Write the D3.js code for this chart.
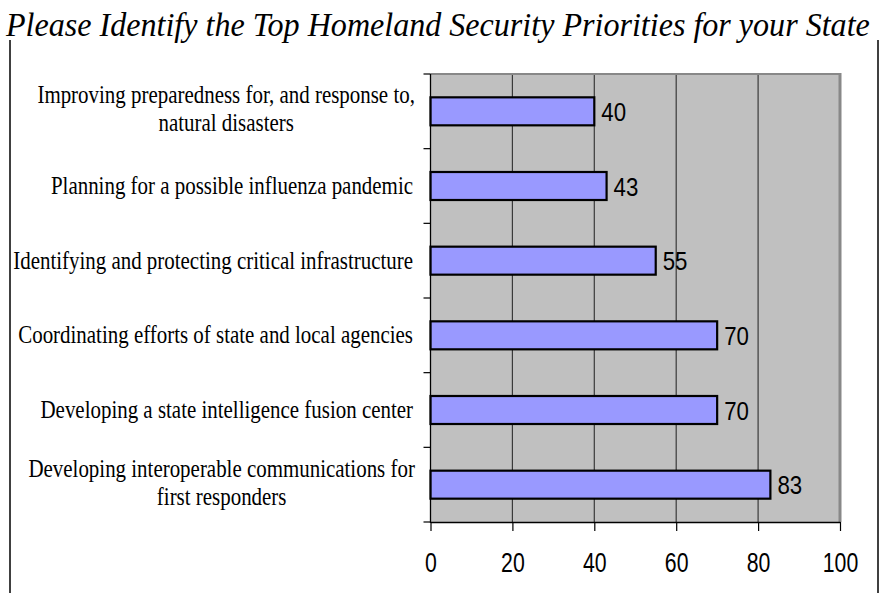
<!DOCTYPE html>
<html><head><meta charset="utf-8">
<script src="https://cdn.jsdelivr.net/npm/d3@7"></script>
<style>body{margin:0;background:#fff}svg{display:block}</style>
</head><body>
<script>
const title = "Please Identify the Top Homeland Security Priorities for your State";
const categories = [
  ["Improving preparedness for, and response to,", "natural disasters"],
  ["Planning for a possible influenza pandemic"],
  ["Identifying and protecting critical infrastructure"],
  ["Coordinating efforts of state and local agencies"],
  ["Developing a state intelligence fusion center"],
  ["Developing interoperable communications for", "first responders"]
];
const values = [40, 43, 55, 70, 70, 83];
const xTicks = [0, 20, 40, 60, 80, 100];

const W = 881, H = 593;
const svg = d3.select("body").append("svg").attr("width", W).attr("height", H);

// frame lines
svg.append("line").attr("x1",10).attr("x2",10).attr("y1",40).attr("y2",H).attr("stroke","#000").attr("stroke-width",1.5);
svg.append("line").attr("x1",878).attr("x2",878).attr("y1",40).attr("y2",H).attr("stroke","#000").attr("stroke-width",1.5);

// title (compressed horizontally via scale to span the page width)
const tTitle = svg.append("text")
  .attr("font-family","'Liberation Serif','Times New Roman',serif")
  .attr("font-style","italic").attr("font-size",34)
  .attr("fill","#000").text(title);
const tW = tTitle.node().getComputedTextLength();
tTitle.attr("transform",`translate(6,36) scale(${864/tW},1)`);

const x0 = 430.5, x1 = 840, y0 = 74, y1 = 522;
const x = d3.scaleLinear().domain([0,100]).range([x0,x1]);
const y = d3.scaleBand().domain(d3.range(categories.length)).range([y0,y1]).paddingInner(0).paddingOuter(0);

// plot background
svg.append("rect").attr("x",x0).attr("y",y0).attr("width",x1-x0).attr("height",y1-y0).attr("fill","#C0C0C0");
// gridlines
svg.append("g").selectAll("line").data(xTicks.filter(t=>t>0&&t<100)).join("line")
  .attr("x1",d=>x(d)).attr("x2",d=>x(d)).attr("y1",y0).attr("y2",y1)
  .attr("stroke","#3a3a3a").attr("stroke-width",1.2);
// plot border top/right
svg.append("line").attr("x1",x0).attr("x2",x1).attr("y1",y0).attr("y2",y0).attr("stroke","#888").attr("stroke-width",2);
svg.append("line").attr("x1",x1).attr("x2",x1).attr("y1",y0-1).attr("y2",y1).attr("stroke","#888").attr("stroke-width",3);

// bars
const bh = 28;
svg.append("g").selectAll("rect").data(values).join("rect")
  .attr("x",x(0)).attr("y",(d,i)=>y(i)+y.bandwidth()/2-bh/2)
  .attr("width",d=>x(d)-x(0)).attr("height",bh)
  .attr("fill","#9999FF").attr("stroke","#000").attr("stroke-width",2.2);

// value labels
svg.append("g").selectAll("text").data(values).join("text")
  .attr("transform",(d,i)=>`translate(${x(d)+7},${y(i)+y.bandwidth()/2+9.5}) scale(0.84,1)`)
  .attr("font-family","'Liberation Sans',Arial,sans-serif").attr("font-size",26.5)
  .attr("fill","#000").text(d=>d);

// y axis
svg.append("line").attr("x1",x0).attr("x2",x0).attr("y1",y0).attr("y2",y1+1).attr("stroke","#000").attr("stroke-width",1.3);
const bounds = d3.range(categories.length+1).map(i=>y0+i*y.bandwidth());
svg.append("g").selectAll("line").data(bounds).join("line")
  .attr("x1",x0-7).attr("x2",x0).attr("y1",d=>d).attr("y2",d=>d).attr("stroke","#000").attr("stroke-width",1.2);

// x axis
const xAxis = d3.axisBottom(x).tickValues(xTicks).tickSize(9).tickSizeOuter(0).tickPadding(21);
const gx = svg.append("g").attr("transform",`translate(0,${y1})`).call(xAxis);
gx.select(".domain").attr("stroke","#000").attr("stroke-width",1.3);
gx.selectAll(".tick line").attr("stroke","#000").attr("stroke-width",1.2);
gx.selectAll(".tick text").attr("font-family","'Liberation Sans',Arial,sans-serif").attr("font-size",28)
  .attr("fill","#000").attr("dy","0.71em")
  .attr("transform","scale(0.76,1)").attr("x",0);

// category labels
const serif = "'Liberation Serif','Times New Roman',serif";
const fs = 25;
const catG = svg.append("g");
const meas = catG.append("text").attr("font-family",serif).attr("font-size",fs).text(categories[2][0]);
const natural = meas.node().getComputedTextLength();
meas.remove();
const sx = 400/natural;
const rightX = 413;
categories.forEach((lines,i)=>{
  const c = y(i)+y.bandwidth()/2;
  if(lines.length===1){
    catG.append("text").attr("transform",`translate(${rightX},${c+8}) scale(${sx},1)`)
      .attr("text-anchor","end").attr("font-family",serif).attr("font-size",fs).attr("fill","#000").text(lines[0]);
  } else {
    const tmp = catG.append("text").attr("font-family",serif).attr("font-size",fs).text(lines[0]);
    const w = tmp.node().getComputedTextLength()*sx; tmp.remove();
    const cx = rightX - w/2 + 2;
    lines.forEach((ln,k)=>{
      catG.append("text").attr("transform",`translate(${cx},${c-8+k*28}) scale(${sx},1)`)
        .attr("text-anchor","middle").attr("font-family",serif).attr("font-size",fs).attr("fill","#000").text(ln);
    });
  }
});
</script>
</body></html>
